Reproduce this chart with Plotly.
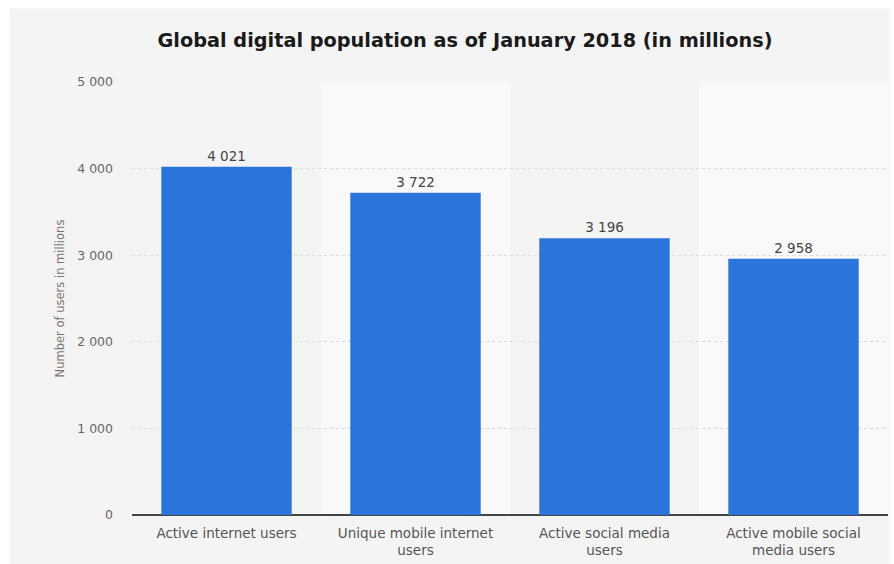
import plotly.graph_objects as go

categories = ["Active internet users", "Unique mobile internet<br>users",
              "Active social media<br>users", "Active mobile social<br>media users"]
values = [4021, 3722, 3196, 2958]
value_labels = ["4 021", "3 722", "3 196", "2 958"]
y_ticks = [0, 1000, 2000, 3000, 4000, 5000]
y_tick_labels = ["0", "1 000", "2 000", "3 000", "4 000", "5 000"]

W, H = 894, 564
ml, mr, mt, mb = 132, 6, 82, 47
pw = W - ml - mr
ph = H - mt - mb

fig = go.Figure()
fig.add_trace(go.Bar(
    x=list(range(len(categories))), y=values,
    marker_color="#2a74dc", marker_line_width=0,
    text=value_labels, textposition="outside",
    textfont=dict(family="DejaVu Sans", size=13.5, color="#444444"),
    cliponaxis=False, width=0.69,
))

shapes = []
# lighter bands behind alternate categories
for i in range(len(categories)):
    if i % 2 == 1:
        shapes.append(dict(type="rect", xref="x", yref="paper", x0=i - 0.5, x1=i + 0.5,
                           y0=0, y1=1, fillcolor="#f9f9f9", line_width=0, layer="below"))
# white frame strips (top, left, right)
shapes.append(dict(type="rect", xref="paper", yref="paper", x0=-0.5, x1=1.5,
                   y0=1 + (mt - 8) / ph, y1=1 + mt / ph + 0.05,
                   fillcolor="white", line_width=0, layer="below"))
shapes.append(dict(type="rect", xref="paper", yref="paper", x0=-ml / pw - 0.05, x1=-(ml - 10) / pw,
                   y0=-1, y1=2, fillcolor="white", line_width=0, layer="below"))
shapes.append(dict(type="rect", xref="paper", yref="paper", x0=1 + 2 / pw, x1=1.5,
                   y0=-1, y1=2, fillcolor="white", line_width=0, layer="below"))

fig.update_layout(
    width=W, height=H,
    margin=dict(l=ml, r=mr, t=mt, b=mb),
    paper_bgcolor="#f4f4f4", plot_bgcolor="rgba(0,0,0,0)",
    showlegend=False,
    shapes=shapes,
    font=dict(family="DejaVu Sans", color="#555555"),
    title=dict(text="<b>Global digital population as of January 2018 (in millions)</b>",
               x=465 / W, xref="container", xanchor="center", y=1 - 40 / H, yanchor="middle",
               font=dict(family="DejaVu Sans", size=19.3, color="#1a1a1a")),
)
fig.update_xaxes(
    tickmode="array", tickvals=list(range(len(categories))), ticktext=categories,
    range=[-0.5, len(categories) - 0.5],
    tickfont=dict(size=13.5, color="#555555"),
    showgrid=False, zeroline=False, showline=False, ticks="",
    ticklabelstandoff=8,
)
fig.update_yaxes(
    range=[0, 5000], tickvals=y_ticks, ticktext=y_tick_labels,
    tickfont=dict(size=12.5, color="#666666"),
    showgrid=True, gridcolor="#dcdcdc", griddash="dot", gridwidth=1,
    zeroline=True, zerolinecolor="#444444", zerolinewidth=1.5,
    ticks="", ticklabelstandoff=18,
    title=dict(text="Number of users in millions", font=dict(size=11.5, color="#777777"), standoff=10),
)

fig.write_html("out.html")
